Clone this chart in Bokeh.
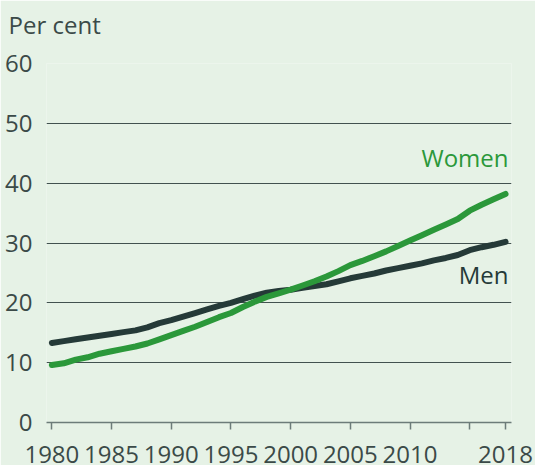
from bokeh.plotting import figure
from bokeh.models import FixedTicker, Label, Range1d
from bokeh.embed import file_html
from bokeh.resources import INLINE

years = list(range(1980, 2019))
men = [13.3, 13.6, 13.9, 14.2, 14.5, 14.8, 15.1, 15.4, 15.9, 16.6,
       17.1, 17.7, 18.3, 18.9, 19.5, 20.0, 20.6, 21.2, 21.7, 22.0,
       22.2, 22.5, 22.8, 23.1, 23.6, 24.1, 24.5, 24.9, 25.4, 25.8,
       26.2, 26.6, 27.1, 27.5, 28.0, 28.8, 29.3, 29.7, 30.2]
women = [9.6, 9.9, 10.5, 10.9, 11.5, 11.9, 12.3, 12.7, 13.2, 13.9,
         14.6, 15.3, 16.0, 16.8, 17.6, 18.3, 19.3, 20.2, 21.0, 21.6,
         22.2, 22.9, 23.6, 24.4, 25.3, 26.3, 27.0, 27.8, 28.6, 29.5,
         30.4, 31.3, 32.2, 33.1, 34.0, 35.4, 36.4, 37.3, 38.2]
x_ticks = [1980, 1985, 1990, 1995, 2000, 2005, 2010, 2015, 2018]
x_tick_labels = ["1980", "1985", "1990", "1995", "2000", "2005", "2010", "", "2018"]
y_ticks = [0, 10, 20, 30, 40, 50, 60]
y_unit = "Per cent"
series_names = ["Women", "Men"]

BG = "#e6f2e6"
GREEN = "#2b983a"
DARK = "#253a38"
TEXT = "#3b4a48"
FONT = "Open Sans"
FS = "24px"

p = figure(width=535, height=465, output_backend="svg", toolbar_location=None,
           x_range=Range1d(1979.55, 2018.5), y_range=Range1d(0, 60),
           min_border_left=46, min_border_right=24, min_border_top=63,
           min_border_bottom=42)
p.background_fill_color = BG
p.border_fill_color = BG
p.outline_line_color = None

p.add_layout(Label(x=-38, y=39, x_units="screen", y_units="screen", text=y_unit,
                   text_font=FONT, text_font_size=FS, text_color=TEXT,
                   text_align="left", text_baseline="alphabetic"), "above")

p.xgrid.visible = False
p.ygrid.ticker = FixedTicker(ticks=y_ticks[1:])
p.ygrid.grid_line_color = "#42524f"
p.ygrid.grid_line_width = 1

xa = p.xaxis[0]
xa.ticker = FixedTicker(ticks=x_ticks)
xa.major_label_overrides = {t: l for t, l in zip(x_ticks, x_tick_labels)}
xa.axis_line_color = "#6c7c79"
xa.axis_line_width = 1.5
xa.major_tick_line_color = "#6c7c79"
xa.major_tick_line_width = 1.5
xa.major_tick_out = 7
xa.major_tick_in = 0
xa.minor_tick_line_color = None
xa.major_label_standoff = 16
xa.major_label_text_font = FONT
xa.major_label_text_font_size = FS
xa.major_label_text_color = TEXT

ya = p.yaxis[0]
ya.ticker = FixedTicker(ticks=y_ticks)
ya.axis_line_color = None
ya.major_tick_line_color = None
ya.minor_tick_line_color = None
ya.major_label_standoff = 8
ya.major_label_text_font = FONT
ya.major_label_text_font_size = FS
ya.major_label_text_color = TEXT

p.line(years, men, line_color=DARK, line_width=6, line_cap="round", line_join="round")
p.line(years, women, line_color=GREEN, line_width=6, line_cap="round", line_join="round")

p.add_layout(Label(x=2018.25, y=42.7, y_offset=10, text=series_names[0],
                   text_font=FONT, text_font_size=FS, text_color=GREEN,
                   text_align="right", text_baseline="alphabetic"))
p.add_layout(Label(x=2018.25, y=23.05, y_offset=10, text=series_names[1],
                   text_font=FONT, text_font_size=FS, text_color=DARK,
                   text_align="right", text_baseline="alphabetic"))

open("out.html", "w").write(file_html(p, INLINE))
